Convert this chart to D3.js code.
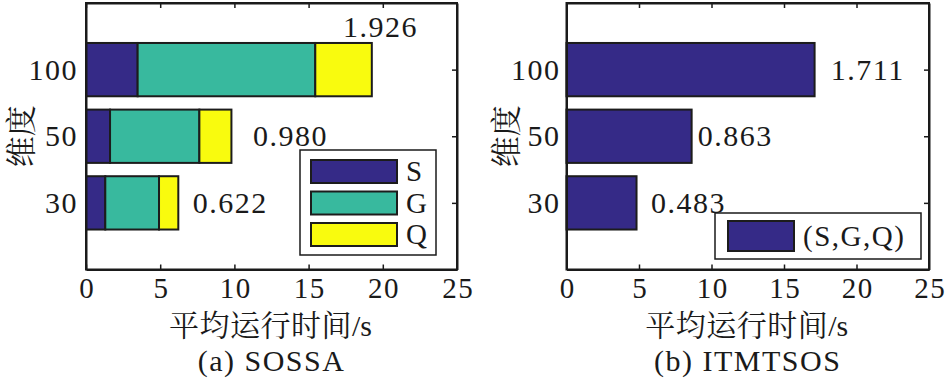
<!DOCTYPE html>
<html>
<head>
<meta charset="utf-8">
<script src="https://cdn.jsdelivr.net/npm/d3@7"></script>
<style>
  html, body { margin: 0; padding: 0; background: #fff; }
  svg { display: block; }
  text { font-family: "Liberation Serif", "Times New Roman", "Noto Serif CJK SC"; fill: #1a1a1a; }
  .cjk { font-family: "Noto Serif CJK SC", "Noto Sans CJK SC"; }
  .cjk2 { font-family: "Liberation Serif", "Noto Serif CJK SC"; }
  .lat { font-family: "Liberation Serif", "Times New Roman"; }
</style>
</head>
<body>
<svg id="chart" width="946" height="380"></svg>
<script>
// ---- data ----
const categories = ["30", "50", "100"];
const seriesNames = ["S", "G", "Q"];
const valuesS = [1.30, 1.62, 3.48];
const valuesG = [3.62, 6.02, 11.97];
const valuesQ = [1.30, 2.16, 3.81];
const itmtsosValues = [4.83, 8.63, 17.11];
const xTicks = [0, 5, 10, 15, 20, 25];
const xLabelCJK = "平均运行时间";
const xLabelUnit = "/s";
const yLabel = "维度";
const captions = ["(a) SOSSA", "(b) ITMTSOS"];
const legendRight = ["(S,G,Q)"];

// ---- style ----
const colors = { S: "#352a87", G: "#38b99e", Q: "#f9fb0e" };
const FS = 30;
const LS = 1.5;

const svg = d3.select("#chart");

function panel(cfg) {
  const g = svg.append("g");
  const x = d3.scaleLinear().domain([0, 25]).range([cfg.left, cfg.right]);
  const y = d3.scaleLinear().domain([0, 4]).range([269.5, 3]);
  const pos = categories.map((c, i) => i + 1);
  const bh = y(0) - y(0.8);

  // bars
  cfg.stacks.forEach(st => {
    g.selectAll(null).data(st.data).enter().append("rect")
      .attr("x", d => x(d.x0))
      .attr("y", (d, i) => y(pos[i]) - bh / 2)
      .attr("width", d => x(d.x1) - x(d.x0))
      .attr("height", bh)
      .attr("fill", st.color)
      .attr("stroke", "#1c1c1c")
      .attr("stroke-width", 2);
  });

  // value labels
  g.selectAll(null).data(cfg.labels).enter().append("text")
    .attr("x", d => x(d.x))
    .attr("y", d => y(d.y))
    .attr("dy", "0.33em")
    .attr("font-size", FS)
    .attr("letter-spacing", LS)
    .text(d => d.text);

  // axes
  const bottom = g.append("g").attr("transform", `translate(0,${y(0)})`)
    .call(d3.axisBottom(x).tickValues(xTicks).tickFormat(d3.format("d"))
      .tickSizeInner(-5).tickSizeOuter(0).tickPadding(8));
  const top = g.append("g").attr("transform", `translate(0,${y(4)})`)
    .call(d3.axisTop(x).tickValues(xTicks).tickFormat("")
      .tickSizeInner(-5).tickSizeOuter(0));
  const left = g.append("g").attr("transform", `translate(${x(0)},0)`)
    .call(d3.axisLeft(y).tickValues(pos).tickFormat((d, i) => categories[i])
      .tickSizeInner(0).tickSizeOuter(0).tickPadding(cfg.yPad));
  const right = g.append("g").attr("transform", `translate(${x(25)},0)`)
    .call(d3.axisRight(y).tickValues(pos).tickFormat("")
      .tickSizeInner(-5).tickSizeOuter(0));
  [bottom, top, left, right].forEach(a => {
    a.select(".domain").attr("stroke", "#1a1a1a").attr("stroke-width", 2);
    a.selectAll(".tick line").attr("stroke", "#1a1a1a").attr("stroke-width", 1.5);
    a.selectAll(".tick text").attr("font-size", FS).attr("letter-spacing", LS)
      .attr("font-family", '"Liberation Serif", "Times New Roman"').attr("fill", "#1a1a1a");
  });
  bottom.selectAll(".tick text").attr("dx", LS / 2).attr("font-size", 29);
  bottom.selectAll(".tick:first-child line, .tick:last-child line").remove();
  top.selectAll(".tick:first-child line, .tick:last-child line").remove();
  g.append("rect").attr("x", x(0)).attr("y", y(4)).attr("width", x(25) - x(0)).attr("height", y(0) - y(4))
    .attr("fill", "none").attr("stroke", "#1a1a1a").attr("stroke-width", 2);

  // axis titles
  g.append("text").attr("class", "cjk2")
    .attr("transform", `translate(${cfg.yLabelX},${y(2)}) rotate(-90)`)
    .attr("text-anchor", "middle").attr("dy", "0.38em")
    .attr("font-size", 31).text(yLabel);
  const xt = g.append("text")
    .attr("x", (x(0) + x(25)) / 2 - 1).attr("y", 336)
    .attr("text-anchor", "middle");
  xt.append("tspan").attr("class", "cjk").attr("font-size", 30).attr("letter-spacing", 0.5).text(xLabelCJK);
  xt.append("tspan").attr("class", "lat").attr("font-size", 30).text(xLabelUnit);
  g.append("text")
    .attr("x", (x(0) + x(25)) / 2).attr("y", 371)
    .attr("text-anchor", "middle").attr("font-size", FS).attr("letter-spacing", LS).text(cfg.caption);

  // legend
  const L = cfg.legend;
  g.append("rect").attr("x", L.x).attr("y", L.y).attr("width", L.w).attr("height", L.h)
    .attr("fill", "#fff").attr("stroke", "#1a1a1a").attr("stroke-width", 1.5);
  L.items.forEach((it, i) => {
    const cy = L.y + L.first + i * L.step;
    g.append("rect").attr("x", L.x + L.sx).attr("y", cy - L.sh / 2)
      .attr("width", L.sw).attr("height", L.sh)
      .attr("fill", it.color).attr("stroke", "#1c1c1c").attr("stroke-width", 2);
    g.append("text").attr("x", L.x + L.sx + L.sw + 9).attr("y", cy).attr("dy", "0.33em")
      .attr("font-size", 29).attr("letter-spacing", LS).text(it.name);
  });
}

// left panel: stacked
const fmt = d3.format(".3f");
const stackData = categories.map((c, i) => ({ S: valuesS[i], G: valuesG[i], Q: valuesQ[i] }));
const stacked = d3.stack().keys(seriesNames)(stackData);
const totalsA = stackData.map(d => d.S + d.G + d.Q);
const labelOffsetA = [[0.98, 0], [1.45, 0], [-1.95, 0.64]];
const labelOffsetB = [[0.99, 0], [0.42, 0], [1.12, 0]];

panel({
  left: 86, right: 457, yLabelX: 20, yPad: 8, caption: captions[0],
  stacks: stacked.map(s => ({ color: colors[s.key], data: s.map(d => ({ x0: d[0], x1: d[1] })) })),
  labels: totalsA.map((t, i) => ({ x: t + labelOffsetA[i][0], y: i + 1 + labelOffsetA[i][1], text: fmt(t / 10) })),
  legend: { x: 300, y: 150, w: 136, h: 105, sx: 11, sw: 86, sh: 23, first: 21.5, step: 31.5,
    items: seriesNames.map(n => ({ name: n, color: colors[n] })) }
});

panel({
  left: 566.5, right: 929, yLabelX: 505, yPad: 6, caption: captions[1],
  stacks: [{ color: colors.S, data: itmtsosValues.map(v => ({ x0: 0, x1: v })) }],
  labels: itmtsosValues.map((t, i) => ({ x: t + labelOffsetB[i][0], y: i + 1 + labelOffsetB[i][1], text: fmt(t / 10) })),
  legend: { x: 715, y: 213, w: 206, h: 46, sx: 13, sw: 66, sh: 30, first: 23, step: 0,
    items: legendRight.map(n => ({ name: n, color: colors.S })) }
});
</script>
</body>
</html>
